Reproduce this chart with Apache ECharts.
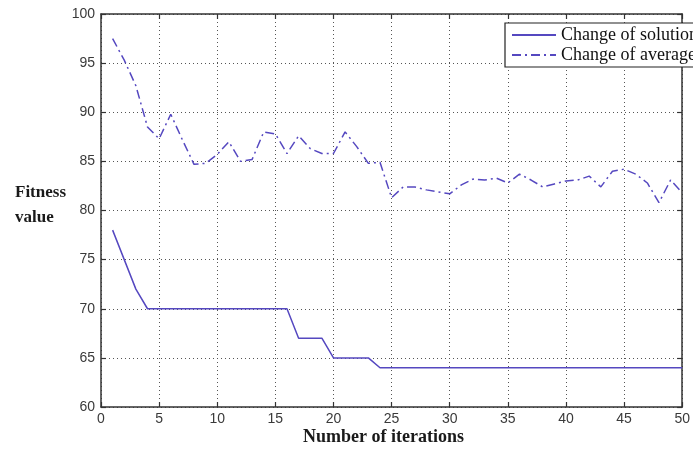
<!DOCTYPE html>
<html>
<head>
<meta charset="utf-8">
<script src="https://cdn.jsdelivr.net/npm/echarts@6/dist/echarts.min.js"></script>
<style>html,body{margin:0;padding:0;background:#fff;}#c{width:693px;height:452px;}</style>
</head>
<body>
<div id="c"></div>
<script>
const iterations = Array.from({length: 50}, (_, i) => i + 1);
const solutionValues = [78, 75, 72, 70, 70, 70, 70, 70, 70, 70,
  70, 70, 70, 70, 70, 70, 67, 67, 67, 65,
  65, 65, 65, 64, 64, 64, 64, 64, 64, 64,
  64, 64, 64, 64, 64, 64, 64, 64, 64, 64,
  64, 64, 64, 64, 64, 64, 64, 64, 64, 64];
const averageValues = [97.5, 95.3, 92.7, 88.5, 87.3, 89.8, 87.2, 84.7, 84.8, 85.7,
  87.0, 85.0, 85.2, 88.0, 87.8, 85.8, 87.6, 86.3, 85.8, 85.8,
  88.0, 86.5, 84.8, 84.9, 81.3, 82.4, 82.4, 82.1, 81.9, 81.7,
  82.6, 83.2, 83.1, 83.3, 82.8, 83.7, 83.1, 82.4, 82.7, 83.0,
  83.1, 83.5, 82.4, 84.0, 84.2, 83.7, 82.8, 80.8, 83.1, 81.8];
const seriesNames = ['Change of solution', 'Change of average'];
const xTitle = 'Number of iterations';
const yTitle = 'Fitness\nvalue';

const lineColor = '#5548c0';
const chart = echarts.init(document.getElementById('c'));
const axisLineStyle = {color: '#333', width: 1.5};
const tickStyle = {show: true, inside: true, length: 5, lineStyle: {color: '#333', width: 1.2}};
const labelStyle = {color: '#3a3a3a', fontFamily: 'Liberation Sans', fontSize: 14};
const gridStyle = {show: true, lineStyle: {color: '#555', type: [1, 3], width: 1}};

chart.setOption({
  backgroundColor: '#fff',
  animation: false,
  grid: {left: 101, right: 4, top: 14, bottom: 45},
  xAxis: [{
    type: 'value', min: 0, max: 50, interval: 5,
    axisLine: {show: true, onZero: false, lineStyle: axisLineStyle},
    axisTick: tickStyle,
    axisLabel: Object.assign({margin: 5}, labelStyle),
    splitLine: gridStyle
  }, {
    type: 'value', min: 0, max: 50, interval: 5, position: 'top',
    axisLine: {show: true, onZero: false, lineStyle: axisLineStyle},
    axisTick: tickStyle, axisLabel: {show: false}, splitLine: {show: false}
  }],
  yAxis: [{
    type: 'value', min: 60, max: 100, interval: 5,
    axisLine: {show: true, onZero: false, lineStyle: axisLineStyle},
    axisTick: tickStyle,
    axisLabel: Object.assign({margin: 6}, labelStyle),
    splitLine: gridStyle
  }, {
    type: 'value', min: 60, max: 100, interval: 5, position: 'right',
    axisLine: {show: true, onZero: false, lineStyle: axisLineStyle},
    axisTick: tickStyle, axisLabel: {show: false}, splitLine: {show: false}
  }],
  legend: {
    orient: 'vertical', left: 505, top: 23,
    backgroundColor: '#fff',
    borderColor: '#222', borderWidth: 1.2,
    padding: [3, 0, 3, 6], itemGap: 2,
    itemWidth: 44, itemHeight: 10,
    itemStyle: {opacity: 0},
    textStyle: {fontFamily: 'Liberation Serif', fontSize: 18, color: '#111', width: 122, overflow: 'none'},
    data: seriesNames
  },
  series: [{
    name: seriesNames[0], type: 'line', symbol: 'none',
    data: iterations.map((x, i) => [x, solutionValues[i]]),
    lineStyle: {color: lineColor, width: 1.5},
    itemStyle: {color: lineColor}
  }, {
    name: seriesNames[1], type: 'line', symbol: 'none',
    data: iterations.map((x, i) => [x, averageValues[i]]),
    lineStyle: {color: lineColor, width: 1.5, type: [9, 4, 2, 4]},
    itemStyle: {color: lineColor}
  }],
  graphic: [{
    type: 'text', left: 15, top: 180,
    style: {text: yTitle, font: 'bold 17px "Liberation Serif"', fill: '#1a1a1a', lineHeight: 25}
  }, {
    type: 'text', left: 303, top: 428,
    style: {text: xTitle, font: 'bold 18px "Liberation Serif"', fill: '#1a1a1a'}
  }]
});
</script>
</body>
</html>
